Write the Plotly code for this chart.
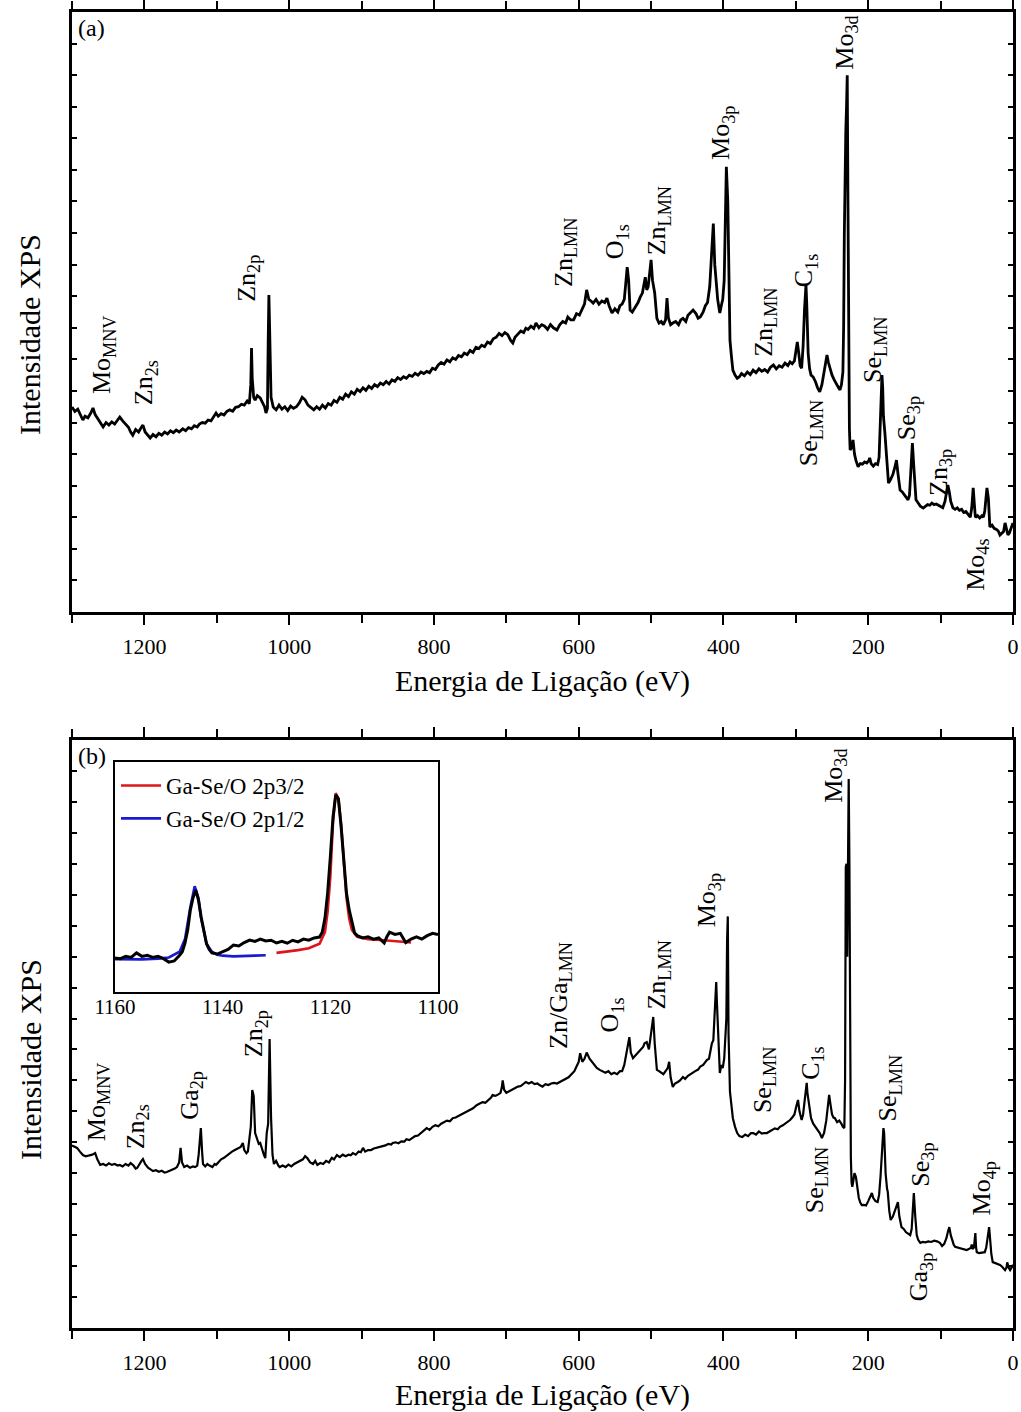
import plotly.graph_objects as go

# ---------------- survey spectrum (a) ----------------
energy_a = [1300, 1296, 1292, 1288, 1285, 1282, 1278, 1274, 1271, 1268, 1264, 1260, 1257, 1253, 1249, 1245,
            1241, 1237, 1234, 1230, 1226, 1222, 1219, 1216, 1212, 1208, 1205, 1202, 1199, 1196, 1192, 1188,
            1184, 1180, 1176, 1172, 1168, 1164, 1160, 1156, 1152, 1147, 1143, 1139, 1135, 1131, 1127, 1124,
            1120, 1116, 1112, 1108, 1104, 1101, 1098, 1094, 1090, 1086, 1082, 1078, 1074, 1070, 1066, 1062,
            1058, 1055, 1053, 1052, 1051, 1049, 1047, 1044, 1040, 1037, 1034, 1032, 1030, 1029, 1028, 1027,
            1025, 1022, 1018, 1014, 1010, 1006, 1002, 998, 994, 990, 986, 982, 978, 974, 970, 966, 962, 958,
            954, 950, 946, 942, 938, 934, 930, 926, 922, 918, 914, 910, 906, 902, 898, 894, 890, 886, 882,
            878, 874, 870, 866, 862, 858, 854, 850, 846, 842, 838, 834, 830, 826, 822, 818, 814, 810, 806,
            802, 798, 794, 790, 786, 782, 778, 774, 770, 766, 762, 758, 754, 750, 746, 742, 738, 734, 730,
            726, 722, 718, 714, 710, 706, 702, 698, 694, 691, 688, 684, 680, 676, 673, 670, 666, 662, 659,
            655, 651, 647, 643, 639, 635, 630, 626, 622, 618, 615, 611, 607, 603, 599, 595, 592, 589, 586,
            583, 580, 576, 572, 568, 564, 561, 558, 554, 550, 546, 543, 540, 537, 535, 533, 531, 529, 526,
            522, 518, 515, 512, 508, 506, 504, 502, 500, 498, 495, 492, 489, 486, 483, 480, 478, 476, 473,
            470, 466, 462, 459, 456, 452, 449, 445, 442, 438, 435, 432, 428, 425, 422, 419, 416, 414, 412,
            410, 408, 406, 405, 403, 401, 399, 397, 396, 394, 393, 392, 391, 389, 387, 384, 381, 378, 375,
            371, 367, 363, 359, 355, 351, 347, 343, 339, 335, 331, 327, 323, 319, 315, 311, 308, 305, 302,
            300, 298, 296, 294, 292, 290, 288, 286, 285, 283, 281, 279, 276, 273, 270, 267, 264, 261, 259,
            257, 255, 252, 250, 247, 244, 241, 239, 237, 235, 234, 233, 232, 231, 230, 229, 228, 227, 226,
            225, 223, 221, 219, 217, 214, 211, 208, 205, 202, 199, 198, 196, 193, 190, 187, 185, 183, 181,
            180, 179, 177, 175, 172, 169, 166, 163, 161, 159, 157, 156, 153, 150, 147, 145, 143, 141, 139,
            137, 135, 134, 131, 128, 124, 121, 118, 115, 112, 109, 106, 103, 100, 97, 94, 92, 90, 88, 86,
            83, 80, 77, 74, 71, 68, 65, 62, 59, 57, 55, 53, 52, 49, 46, 43, 41, 39, 37, 36, 34, 32, 29, 26,
            22, 20, 18, 15, 13, 11, 9, 7, 5, 3, 0]
counts_a = [6.49, 6.35, 6.42, 6.2, 6.08, 6.2, 6.15, 6.3, 6.46, 6.25, 6.1, 5.95, 5.86, 6.0, 5.92, 6.02,
            5.95, 6.08, 6.17, 6.05, 5.95, 5.85, 5.7, 5.6, 5.78, 5.7, 5.82, 5.92, 5.7, 5.62, 5.51, 5.62,
            5.55, 5.66, 5.6, 5.7, 5.64, 5.74, 5.68, 5.76, 5.7, 5.8, 5.74, 5.84, 5.8, 5.9, 5.86, 5.95,
            6.0, 5.98, 6.08, 6.05, 6.18, 6.3, 6.2, 6.28, 6.24, 6.35, 6.4, 6.36, 6.48, 6.5, 6.58, 6.55,
            6.68, 6.6, 7.2, 8.36, 7.4, 6.8, 6.71, 6.85, 6.78, 6.65, 6.5, 6.3, 6.45, 8.5, 10.04, 9.0,
            6.8, 6.49, 6.4, 6.55, 6.42, 6.5, 6.38, 6.52, 6.45, 6.5, 6.62, 6.8, 6.72, 6.55, 6.48, 6.4, 6.5, 6.42,
            6.55, 6.46, 6.6, 6.55, 6.7, 6.64, 6.8, 6.74, 6.9, 6.82, 6.97, 6.9, 7.05, 6.98, 7.1, 7.02, 7.15, 7.08, 7.2,
            7.14, 7.25, 7.2, 7.3, 7.22, 7.35, 7.3, 7.42, 7.36, 7.45, 7.4, 7.5, 7.46, 7.56, 7.5, 7.6, 7.55, 7.62, 7.58,
            7.72, 7.68, 7.82, 7.9, 7.85, 7.98, 7.92, 8.05, 8.0, 8.12, 8.08, 8.2, 8.15, 8.28, 8.22, 8.38, 8.34, 8.45, 8.4,
            8.55, 8.5, 8.65, 8.7, 8.82, 8.75, 8.85, 8.78, 8.6, 8.52, 8.7, 8.8, 8.9, 8.85, 8.99, 8.95, 9.05, 8.98, 9.15,
            9.0, 9.1, 9.05, 8.95, 9.1, 9.0, 8.93, 9.1, 9.2, 9.15, 9.34, 9.25, 9.25, 9.45, 9.4, 9.6, 9.75, 10.2, 9.9,
            9.85, 9.78, 9.9, 9.75, 9.85, 9.8, 9.94, 9.7, 9.47, 9.6, 9.5, 9.7, 9.75, 9.9, 10.4, 10.92, 10.5, 9.56, 9.5,
            9.65, 9.8, 9.97, 10.1, 10.6, 10.2, 10.3, 10.7, 11.15, 10.5, 10.1, 9.3, 9.15, 9.2, 9.1, 9.25, 9.94, 9.3, 9.1,
            9.15, 9.2, 9.1, 9.25, 9.3, 9.2, 9.4, 9.5, 9.56, 9.45, 9.3, 9.34, 9.5, 9.7, 9.8, 10.3, 11.3, 12.3, 11.0,
            10.3, 9.9, 9.6, 9.47, 9.7, 9.9, 10.5, 12.5, 14.1, 13.0, 11.56, 10.3, 8.6, 8.1, 7.66, 7.5, 7.4, 7.45, 7.55,
            7.48, 7.6, 7.52, 7.66, 7.58, 7.7, 7.62, 7.68, 7.6, 7.75, 7.82, 7.7, 7.8, 7.75, 7.88, 7.8, 7.92, 7.86, 7.95,
            8.2, 8.55, 8.2, 7.8, 7.72, 8.4, 9.6, 10.35, 9.8, 8.2, 7.7, 7.5, 7.44, 7.3, 7.1, 6.97, 7.2, 7.6, 8.0,
            8.14, 7.9, 7.6, 7.5, 7.35, 7.2, 7.1, 7.03, 7.2, 7.6, 9.0, 12.0, 14.95, 15.2, 16.0, 17.0, 13.0, 8.0, 5.8,
            5.13, 5.2, 5.45, 5.0, 4.8, 4.6, 4.7, 4.68, 4.75, 4.72, 4.8, 4.88, 4.7, 4.62, 4.7, 4.67, 4.9, 6.2, 7.5,
            7.1, 6.2, 5.67, 5.0, 4.08, 4.2, 4.35, 4.6, 4.81, 4.4, 4.0, 3.86, 3.8, 3.7, 3.6, 3.55, 3.7, 4.5, 5.35,
            4.6, 3.8, 3.55, 3.45, 3.35, 3.29, 3.35, 3.4, 3.38, 3.45, 3.4, 3.42, 3.38, 3.35, 3.3, 3.5, 3.8, 4.02, 3.8, 3.5,
            3.3, 3.25, 3.3, 3.22, 3.25, 3.15, 3.18, 3.08, 3.0, 3.3, 3.93, 3.3, 3.0, 3.05, 2.98, 3.05, 3.0, 3.2, 3.7, 3.93, 3.6, 2.69, 2.75, 2.65,
            2.6, 2.55, 2.44, 2.5, 2.55, 2.82, 2.6, 2.44, 2.5, 2.65, 2.82]

# ---------------- survey spectrum (b) ----------------
energy_b = [1300, 1296, 1293, 1289, 1285, 1281, 1276, 1272, 1268, 1265, 1261, 1257, 1253, 1249, 1245, 1241,
            1237, 1234, 1230, 1226, 1222, 1219, 1215, 1212, 1210, 1207, 1204, 1202, 1199, 1195, 1191, 1188,
            1184, 1180, 1176, 1172, 1169, 1165, 1161, 1158, 1155, 1152, 1150, 1148, 1145, 1141, 1137, 1133,
            1130, 1127, 1125, 1122, 1120, 1119, 1116, 1113, 1110, 1106, 1103, 1101, 1098, 1094, 1090, 1086,
            1083, 1079, 1075, 1071, 1067, 1064, 1062, 1059, 1057, 1055, 1053, 1051, 1049, 1047, 1044, 1042,
            1040, 1037, 1035, 1033, 1031, 1029, 1027, 1025, 1023, 1021, 1018, 1015, 1013, 1009, 1005, 1001,
            997, 993, 989, 985, 981, 978, 975, 971, 967, 964, 961, 957, 953, 949, 945, 941, 938, 934, 930,
            926, 922, 918, 915, 912, 908, 904, 901, 898, 895, 891, 887, 883, 879, 875, 871, 867, 863, 859,
            857, 853, 849, 845, 841, 838, 834, 830, 826, 822, 818, 814, 810, 806, 802, 798, 794, 790, 786,
            782, 778, 774, 770, 766, 762, 758, 754, 750, 746, 741, 737, 733, 729, 725, 721, 719, 715, 711,
            708, 706, 705, 703, 700, 696, 692, 688, 684, 680, 676, 673, 669, 665, 661, 657, 654, 650, 646,
            642, 638, 634, 630, 626, 622, 618, 614, 610, 606, 602, 600, 598, 595, 592, 589, 585, 582, 578,
            575, 571, 567, 563, 559, 555, 551, 547, 543, 540, 537, 534, 532, 530, 528, 525, 522, 518, 514,
            511, 509, 506, 503, 501, 499, 497, 495, 493, 492, 489, 486, 483, 480, 477, 475, 473, 470, 467,
            463, 460, 456, 453, 449, 446, 442, 439, 435, 432, 428, 425, 423, 420, 418, 416, 414, 412, 410,
            409, 407, 405, 403, 401, 399, 397, 396, 395, 394, 393, 391, 389, 387, 384, 381, 378, 374, 370,
            366, 362, 359, 355, 351, 347, 344, 340, 336, 332, 329, 325, 322, 318, 315, 311, 308, 305, 302,
            299, 297, 295, 293, 292, 290, 288, 286, 285, 284, 282, 279, 276, 273, 270, 267, 264, 261, 258,
            256, 254, 252, 250, 248, 246, 243, 240, 237, 235, 233, 232, 231, 230, 229, 228, 227, 226, 225,
            224, 223, 222, 221, 219, 217, 215, 213, 211, 209, 206, 203, 200, 197, 195, 193, 190, 187, 185,
            183, 181, 179, 178, 176, 174, 173, 171, 169, 166, 163, 161, 159, 157, 154, 151, 148, 145, 142,
            140, 138, 137, 135, 133, 131, 128, 125, 121, 117, 113, 109, 105, 101, 98, 95, 92, 90, 88, 86, 84,
            82, 80, 77, 74, 71, 68, 64, 61, 58, 57, 56, 54, 52, 51, 50, 47, 44, 41, 39, 37, 35, 33, 31, 30,
            28, 25, 22, 20, 18, 15, 13, 11, 9, 8, 6, 4, 2, 0]
counts_b = [5.9, 5.85, 5.82, 5.7, 5.59, 5.55, 5.57, 5.6, 5.65, 5.45, 5.27, 5.3, 5.25, 5.32, 5.27, 5.3,
            5.25, 5.27, 5.22, 5.3, 5.25, 5.33, 5.25, 5.15, 5.17, 5.3, 5.4, 5.46, 5.3, 5.18, 5.1, 5.07,
            5.1, 5.05, 5.08, 5.02, 5.04, 5.08, 5.1, 5.15, 5.2, 5.35, 5.82, 5.35, 5.2, 5.25, 5.18, 5.22,
            5.2, 5.25, 5.6, 6.46, 5.6, 5.3, 5.22, 5.3, 5.25, 5.2, 5.3, 5.27, 5.35, 5.45, 5.5, 5.58,
            5.65, 5.7, 5.75, 5.8, 5.85, 5.98, 5.75, 5.65, 5.7, 6.1, 6.5, 7.69, 7.5, 6.3, 6.1, 5.95,
            5.98, 5.7, 5.6, 5.49, 6.3, 6.6, 9.34, 6.8, 5.6, 5.3, 5.4, 5.25, 5.2, 5.25, 5.2, 5.28,
            5.22, 5.3, 5.35, 5.38, 5.45, 5.55, 5.49, 5.35, 5.3, 5.4, 5.27, 5.33, 5.3, 5.4, 5.35, 5.5, 5.45, 5.59, 5.52,
            5.6, 5.55, 5.6, 5.58, 5.65, 5.6, 5.7, 5.68, 5.82, 5.7, 5.75, 5.75, 5.8, 5.82, 5.85, 5.88, 5.9, 5.95, 5.93,
            5.98, 6.0, 5.97, 6.03, 6.02, 6.1, 6.07, 6.15, 6.2, 6.22, 6.3, 6.35, 6.46, 6.4, 6.5, 6.55, 6.52, 6.6, 6.65,
            6.7, 6.68, 6.78, 6.8, 6.85, 6.9, 6.95, 7.0, 7.05, 7.1, 7.2, 7.25, 7.3, 7.28, 7.35, 7.45, 7.53, 7.5, 7.55,
            7.6, 7.8, 8.0, 7.7, 7.6, 7.65, 7.7, 7.75, 7.8, 7.82, 7.9, 7.95, 7.9, 7.95, 7.88, 7.9, 7.85, 7.8, 7.88,
            7.85, 7.9, 7.92, 7.9, 7.95, 8.0, 8.05, 8.1, 8.2, 8.3, 8.5, 8.6, 8.88, 8.6, 8.7, 8.9, 8.7, 8.6, 8.5,
            8.4, 8.34, 8.3, 8.25, 8.3, 8.2, 8.25, 8.2, 8.3, 8.3, 8.5, 8.9, 9.2, 9.4, 8.9, 8.72, 8.8, 8.9, 9.0,
            9.08, 9.2, 9.24, 9.0, 9.3, 9.6, 10.05, 9.2, 8.6, 8.34, 8.3, 8.25, 8.2, 8.3, 8.4, 8.6, 8.1, 7.79, 7.9,
            7.95, 8.0, 8.11, 8.05, 8.15, 8.2, 8.24, 8.3, 8.35, 8.45, 8.5, 8.6, 8.66, 8.7, 9.0, 9.2, 9.3, 10.47, 11.18,
            10.5, 9.5, 8.24, 8.5, 8.4, 8.7, 9.5, 10.0, 12.5, 13.3, 9.5, 7.63, 7.2, 6.78, 6.5, 6.3, 6.2, 6.17, 6.25,
            6.2, 6.3, 6.3, 6.25, 6.35, 6.28, 6.3, 6.3, 6.35, 6.4, 6.45, 6.42, 6.5, 6.55, 6.6, 6.65, 6.72, 6.8, 6.9,
            7.2, 7.37, 7.0, 6.8, 6.72, 6.9, 7.3, 7.7, 7.92, 7.6, 7.2, 6.78, 6.6, 6.5, 6.4, 6.3, 6.14, 6.3, 6.7,
            7.2, 7.53, 7.2, 6.9, 6.8, 6.78, 6.65, 6.7, 6.6, 6.5, 6.46, 8.0, 14.9, 15.0, 12.0, 14.5, 17.74, 15.0, 9.0,
            5.5, 4.7, 4.56, 4.7, 5.0, 4.88, 4.5, 4.2, 4.05, 3.97, 3.98, 3.96, 4.1, 4.25, 4.36, 4.2, 4.1, 4.07, 4.3,
            4.9, 5.8, 6.46, 6.3, 5.0, 4.5, 4.4, 3.8, 3.49, 3.6, 3.8, 4.0, 4.07, 3.6, 3.26, 3.2, 3.1, 3.05, 3.0,
            3.2, 3.8, 4.36, 3.6, 3.0, 2.85, 2.75, 2.78, 2.77, 2.8, 2.78, 2.82, 2.8, 2.75, 2.65, 2.72, 2.9, 3.1, 3.26, 3.0, 2.8,
            2.7, 2.62, 2.6, 2.58, 2.56, 2.55, 2.52, 2.55, 2.6, 2.7, 2.55, 2.6, 3.07, 2.6, 2.45, 2.42, 2.43, 2.42, 2.45, 2.6, 2.9, 3.26, 2.7, 2.4,
            2.13, 2.1, 2.08, 2.05, 2.04, 1.98, 1.92, 1.87, 1.95, 2.12, 1.95, 1.87, 1.95, 2.04]

# ---------------- Ga 2p high-resolution region (inset) ----------------
energy_ga = [1160, 1159, 1158, 1157, 1156, 1155, 1154, 1153, 1152, 1151, 1150, 1149, 1148, 1147.5, 1147,
             1146.5, 1146, 1145.5, 1145, 1144.5, 1144, 1143.5, 1143, 1142.5, 1142, 1141, 1140, 1139, 1138,
             1137, 1136, 1135, 1134, 1133, 1132, 1131, 1130, 1129, 1128, 1127, 1126, 1125, 1124, 1123, 1122,
             1121.5, 1121, 1120.5, 1120, 1119.5, 1119, 1118.5, 1118, 1117.5, 1117, 1116.5, 1116, 1115.5, 1115,
             1114, 1113, 1112, 1111, 1110, 1109.5, 1109, 1108, 1107, 1106, 1105, 1104, 1103, 1102, 1101, 1100]
counts_ga = [1.48, 1.45, 1.55, 1.5, 1.7, 1.55, 1.6, 1.5, 1.55, 1.45, 1.3, 1.35, 1.6, 1.75, 2.13,
             2.7, 3.57, 4.1, 4.43, 4.0, 3.26, 2.6, 2.1, 1.85, 1.7, 1.65, 1.75, 1.85, 2.04,
             2.0, 2.15, 2.26, 2.2, 2.3, 2.22, 2.25, 2.13, 2.2, 2.12, 2.25, 2.18, 2.3, 2.25, 2.35, 2.39,
             2.6, 3.2, 4.3, 5.87, 7.6, 8.57, 8.4, 7.2, 5.6, 4.3, 3.57, 3.0, 2.57, 2.45,
             2.35, 2.4, 2.3, 2.35, 2.13, 2.4, 2.6, 2.5, 2.55, 2.15, 2.3, 2.4, 2.3, 2.45, 2.55, 2.5]

# fitted components
energy_fit_12 = [1160, 1155, 1152, 1150, 1148, 1147, 1146, 1145.2, 1144.5, 1144, 1143, 1142, 1141, 1140,
                 1138, 1136, 1134, 1132]
counts_fit_12 = [1.43, 1.42, 1.45, 1.5, 1.75, 2.3, 3.7, 4.6, 4.1, 3.2, 2.1, 1.75, 1.62, 1.58,
                 1.55, 1.55, 1.58, 1.6]
energy_fit_32 = [1130, 1128, 1126, 1124, 1122, 1121, 1120.5, 1120, 1119.5, 1119, 1118.5, 1118, 1117.5,
                 1117, 1116.5, 1116, 1115, 1113, 1110, 1108, 1106, 1105]
counts_fit_32 = [1.7, 1.75, 1.82, 1.9, 2.1, 2.6, 3.5, 5.0, 7.4, 8.65, 8.4, 7.3, 5.6,
                 4.1, 3.2, 2.7, 2.4, 2.3, 2.25, 2.2, 2.17, 2.15]

# tick labels on the energy axes
energy_ticks = [1200, 1000, 800, 600, 400, 200, 0]
energy_minor = [1300, 1100, 900, 700, 500, 300, 100]
inset_ticks = [1160, 1140, 1120, 1100]

# peak assignments: (label, binding energy, height of label centre)
peaks_a = [
    ("Mo<sub>MNV</sub>", 1257, 8.14), ("Zn<sub>2s</sub>", 1199, 7.25), ("Zn<sub>2p</sub>", 1057, 10.58),
    ("Zn<sub>LMN</sub>", 619, 11.4), ("O<sub>1s</sub>", 548, 11.72), ("Zn<sub>LMN</sub>", 490, 12.38),
    ("Mo<sub>3p</sub>", 402, 15.17), ("Zn<sub>LMN</sub>", 343, 9.18), ("C<sub>1s</sub>", 287, 10.83),
    ("Se<sub>LMN</sub>", 280, 5.67), ("Mo<sub>3d</sub>", 231, 18.02), ("Se<sub>LMN</sub>", 192, 8.3),
    ("Se<sub>3p</sub>", 145, 6.14), ("Zn<sub>3p</sub>", 101, 4.43), ("Mo<sub>4s</sub>", 50, 1.49),
]
peaks_b = [
    ("Mo<sub>MNV</sub>", 1264, 7.3), ("Zn<sub>2s</sub>", 1210, 6.49), ("Ga<sub>2p</sub>", 1136, 7.53),
    ("Zn<sub>2p</sub>", 1047, 9.5), ("Zn/Ga<sub>LMN</sub>", 626, 10.76), ("O<sub>1s</sub>", 555, 10.11),
    ("Zn<sub>LMN</sub>", 490, 11.4), ("Mo<sub>3p</sub>", 421, 13.83), ("Se<sub>LMN</sub>", 344, 8.01),
    ("C<sub>1s</sub>", 278, 8.56), ("Se<sub>LMN</sub>", 272, 4.78), ("Mo<sub>3d</sub>", 246, 17.84),
    ("Se<sub>LMN</sub>", 171, 7.75), ("Se<sub>3p</sub>", 126, 5.27), ("Mo<sub>4p</sub>", 41, 4.52),
    ("Ga<sub>3p</sub>", 128, 1.65),
]

FONT = "Liberation Serif"
BLACK = "#000000"
W, H = 1021, 1412

fig = go.Figure()
fig.add_trace(go.Scatter(x=energy_a, y=counts_a, mode="lines", line=dict(color=BLACK, width=2.8),
                         xaxis="x", yaxis="y", showlegend=False))
fig.add_trace(go.Scatter(x=energy_b, y=counts_b, mode="lines", line=dict(color=BLACK, width=2.2),
                         xaxis="x2", yaxis="y2", showlegend=False))
fig.add_trace(go.Scatter(x=energy_fit_32, y=counts_fit_32, mode="lines", name="Ga-Se/O 2p3/2",
                         line=dict(color="#e0141a", width=2.6), xaxis="x3", yaxis="y3"))
fig.add_trace(go.Scatter(x=energy_fit_12, y=counts_fit_12, mode="lines", name="Ga-Se/O 2p1/2",
                         line=dict(color="#1a1ad0", width=2.6), xaxis="x3", yaxis="y3"))
fig.add_trace(go.Scatter(x=energy_ga, y=counts_ga, mode="lines", line=dict(color=BLACK, width=3),
                         xaxis="x3", yaxis="y3", showlegend=False))

x_dom = [72 / W, 1013 / W]


def energy_axis(anchor):
    return dict(
        domain=x_dom, anchor=anchor, range=[1300, 0], automargin=False, tickmode="array",
        tickvals=energy_ticks, ticktext=[str(v) for v in energy_ticks],
        ticks="outside", ticklen=10, tickwidth=2, tickcolor=BLACK,
        minor=dict(tickmode="array", tickvals=energy_minor, ticks="outside", ticklen=8,
                   tickwidth=2, tickcolor=BLACK),
        showline=True, linecolor=BLACK, linewidth=3, mirror="ticks",
        showgrid=False, zeroline=False,
        tickfont=dict(family=FONT, size=22, color=BLACK), ticklabelstandoff=3,
        title=dict(text="Energia de Ligação (eV)", font=dict(family=FONT, size=30, color=BLACK),
                   standoff=12),
    )


def counts_axis(domain, anchor):
    return dict(
        domain=domain, anchor=anchor, range=[0, 19], automargin=False, tickmode="linear", tick0=0,
        dtick=1, ticks="inside", ticklen=5, tickwidth=2, tickcolor=BLACK, showticklabels=False,
        showline=True, linecolor=BLACK, linewidth=3, mirror="ticks",
        showgrid=False, zeroline=False,
    )


fig.update_layout(
    width=W, height=H, margin=dict(l=0, r=0, t=0, b=0),
    paper_bgcolor="white", plot_bgcolor="white",
    font=dict(family=FONT, color=BLACK),
    xaxis=energy_axis("y"),
    yaxis=counts_axis([1 - 612 / H, 1 - 12 / H], "x"),
    xaxis2=energy_axis("y2"),
    yaxis2=counts_axis([1 - 1328 / H, 1 - 740 / H], "x2"),
    xaxis3=dict(domain=[115 / W, 438 / W], anchor="y3", range=[1160, 1100], automargin=False,
                tickmode="array", tickvals=inset_ticks, ticks="", showline=True, linecolor=BLACK,
                linewidth=2, mirror=True, showgrid=False, zeroline=False, ticklabelstandoff=-5,
                tickfont=dict(family=FONT, size=21, color=BLACK)),
    yaxis3=dict(domain=[1 - 992 / H, 1 - 762 / H], anchor="x3", range=[0, 10], automargin=False,
                ticks="", showticklabels=False, showline=True, linecolor=BLACK, linewidth=2,
                mirror=True, showgrid=False, zeroline=False),
    legend=dict(x=116 / W, y=1 - 764 / H, xanchor="left", yanchor="top",
                bgcolor="rgba(0,0,0,0)", font=dict(family=FONT, size=23, color=BLACK),
                itemwidth=40, tracegroupgap=0),
)

annotations = []
for text, e, h in peaks_a:
    annotations.append(dict(x=e, y=h, xref="x", yref="y", text=text, showarrow=False, textangle=-90,
                            xanchor="center", yanchor="middle",
                            font=dict(family=FONT, size=26, color=BLACK)))
for text, e, h in peaks_b:
    annotations.append(dict(x=e, y=h, xref="x2", yref="y2", text=text, showarrow=False, textangle=-90,
                            xanchor="center", yanchor="middle",
                            font=dict(family=FONT, size=26, color=BLACK)))
# intensity axis titles, one per panel
for y_px in (335, 1060):
    annotations.append(dict(x=30 / W, y=1 - y_px / H, xref="paper", yref="paper",
                            text="Intensidade XPS", showarrow=False, textangle=-90,
                            xanchor="center", yanchor="middle",
                            font=dict(family=FONT, size=30, color=BLACK)))
annotations.append(dict(x=0.004, y=0.998, xref="x domain", yref="y domain", text="(a)",
                        showarrow=False, xanchor="left", yanchor="top",
                        font=dict(family=FONT, size=24, color=BLACK)))
annotations.append(dict(x=0.004, y=0.998, xref="x2 domain", yref="y2 domain", text="(b)",
                        showarrow=False, xanchor="left", yanchor="top",
                        font=dict(family=FONT, size=24, color=BLACK)))
fig.update_layout(annotations=annotations)

fig.write_html("out.html")
